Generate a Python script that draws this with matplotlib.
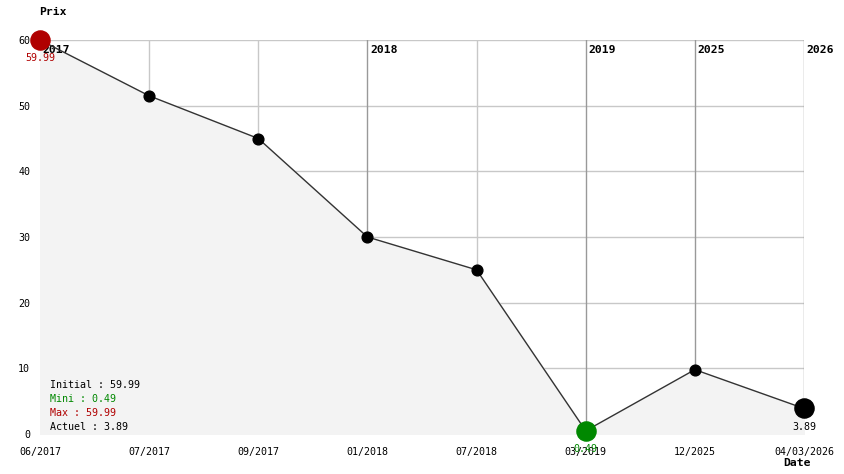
import matplotlib
matplotlib.use("Agg")
import matplotlib.pyplot as plt

dates = ["06/2017", "07/2017", "09/2017", "01/2018", "07/2018", "03/2019", "12/2025", "04/03/2026"]
prices = [59.99, 51.5, 45.0, 30.0, 25.0, 0.49, 9.8, 3.89]
year_marks = ["2017", None, None, "2018", None, "2019", "2025", "2026"]
yticks = [0, 10, 20, 30, 40, 50, 60]

mono = "DejaVu Sans Mono"
plt.rcParams["font.family"] = mono

fig = plt.figure(figsize=(8.44, 4.74), dpi=100)
ax = fig.add_axes([40 / 844, 1 - 434 / 474, 764 / 844, 394 / 474])
x = list(range(len(prices)))

ax.set_xlim(0, len(prices) - 1)
ax.set_ylim(0, 60)
for s in ax.spines.values():
    s.set_visible(False)

for v in yticks:
    ax.axhline(v, color="#c8c8c8", lw=1, zorder=0)
for i in x:
    col = "#999999" if year_marks[i] else "#c8c8c8"
    ax.axvline(i, color=col, lw=1, zorder=0)
    if year_marks[i]:
        ax.annotate(year_marks[i], (i, 60), xytext=(2, -3.5), textcoords="offset points",
                    fontsize=8.2, fontweight="bold", va="top", ha="left", zorder=1)

ax.fill_between(x, prices, 0, color="#f3f3f3", zorder=0.5)
ax.plot(x, prices, color="#333333", lw=1, zorder=2)
ax.scatter(x[1:-1], prices[1:-1], s=60, color="black", zorder=3)

imax = prices.index(max(prices))
imin = prices.index(min(prices))
ax.scatter([imax], [prices[imax]], s=190, color="#b00000", zorder=4, clip_on=False)
ax.scatter([imin], [prices[imin]], s=190, color="#008800", zorder=4, clip_on=False)
ax.scatter([x[-1]], [prices[-1]], s=190, color="black", zorder=4, clip_on=False)

ax.annotate(f"{prices[imax]:.2f}", (imax, prices[imax]), xytext=(0, -9.5), textcoords="offset points",
            ha="center", va="top", fontsize=7.2, color="#b00000", zorder=5)
ax.annotate(f"{prices[imin]:.2f}", (imin, prices[imin]), xytext=(0, -9.5), textcoords="offset points",
            ha="center", va="top", fontsize=7.2, color="#008800", zorder=5)
ax.annotate(f"{prices[-1]:.2f}", (x[-1], prices[-1]), xytext=(0, -9.5), textcoords="offset points",
            ha="center", va="top", fontsize=7.2, color="black", zorder=5)

ax.set_xticks(x)
ax.set_xticklabels(dates, fontsize=7.2)
ax.set_yticks(yticks)
ax.set_yticklabels([str(v) for v in yticks], fontsize=7.2)
ax.tick_params(length=0)
ax.tick_params(axis="x", pad=9)
ax.tick_params(axis="y", pad=7)

stats = [("Initial : %.2f" % prices[0], "black"),
         ("Mini : %.2f" % min(prices), "#008800"),
         ("Max : %.2f" % max(prices), "#b00000"),
         ("Actuel : %.2f" % prices[-1], "black")]
for k, (t, c) in enumerate(stats):
    fig.text(50 / 844, 1 - (385 + 14 * k) / 474, t, fontsize=7.2, color=c, va="center", ha="left")

fig.text(53 / 844, 1 - 12 / 474, "Prix", fontsize=8.2, fontweight="bold", ha="center", va="center")
fig.text(797 / 844, 1 - 463 / 474, "Date", fontsize=8.2, fontweight="bold", ha="center", va="center")

fig.savefig("out.png", dpi=100)
